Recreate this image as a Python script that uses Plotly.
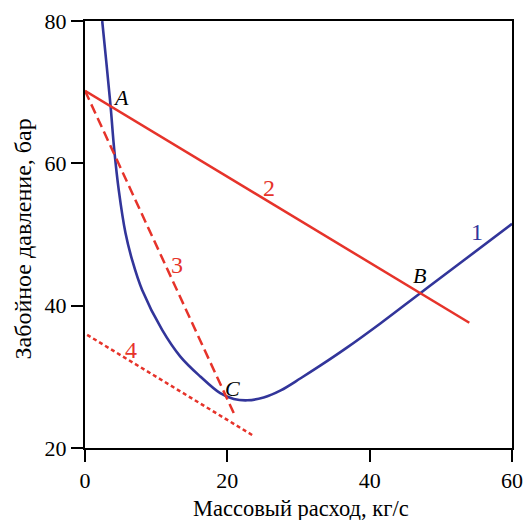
import plotly.graph_objects as go

# Curve 1 (blue): bottomhole pressure vs mass flow
curve1_x = [2.42, 3.0, 3.58, 4.1, 4.75, 5.69, 6.63, 8.03, 10.84, 13.4, 16.2, 19.0, 20.9, 22.8,
            25.1, 27.5, 30.3, 33.1, 36.8, 41.5, 47.1, 53.0, 60.0]
curve1_y = [80.0, 74.2, 68.2, 62.0, 56.2, 50.2, 46.4, 42.2, 36.6, 32.85, 30.05, 27.7, 26.9, 26.7,
            27.1, 28.1, 29.8, 31.6, 34.1, 37.5, 41.75, 46.2, 51.5]

# Line 2 (red solid)
line2_x = [0.0, 54.0]
line2_y = [70.2, 37.6]

# Line 3 (red dashed)
line3_x = [0.0, 20.9]
line3_y = [70.2, 24.9]

# Line 4 (red dotted)
line4_x = [0.3, 23.7]
line4_y = [35.9, 21.7]

# Point labels
point_labels = ["A", "B", "C"]
point_x = [5.0, 47.0, 20.7]
point_y = [69.3, 44.2, 28.4]

# Curve number labels
num_labels = ["1", "2", "3", "4"]
num_x = [55.1, 25.8, 12.95, 6.4]
num_y = [50.4, 56.5, 45.7, 33.8]

x_ticks = [0, 20, 40, 60]
y_ticks = [20, 40, 60, 80]

BLUE = "#32359a"
RED = "#e6332a"
FONT = "Liberation Serif"

fig = go.Figure()
fig.add_trace(go.Scatter(x=curve1_x, y=curve1_y, mode="lines",
                         line=dict(color=BLUE, width=2.6, shape="spline", smoothing=1.0)))
fig.add_trace(go.Scatter(x=line2_x, y=line2_y, mode="lines",
                         line=dict(color=RED, width=2.5)))
fig.add_trace(go.Scatter(x=line3_x, y=line3_y, mode="lines",
                         line=dict(color=RED, width=2.5, dash="10px,5px")))
fig.add_trace(go.Scatter(x=line4_x, y=line4_y, mode="lines",
                         line=dict(color=RED, width=2.5, dash="4px,3px")))

for t, x, y in zip(point_labels, point_x, point_y):
    fig.add_annotation(x=x, y=y, text="<i>" + t + "</i>", showarrow=False,
                       font=dict(family=FONT, size=22, color="black"),
                       xanchor="center", yanchor="middle")

num_colors = [BLUE, RED, RED, RED]
for t, x, y, c in zip(num_labels, num_x, num_y, num_colors):
    fig.add_annotation(x=x, y=y, text=t, showarrow=False,
                       font=dict(family=FONT, size=24, color=c),
                       xanchor="center", yanchor="middle")

fig.add_annotation(xref="paper", yref="paper", x=0.5, y=0, yshift=-60, xshift=2,
                   text="Массовый расход, кг/с", showarrow=False,
                   font=dict(family=FONT, size=22.5, color="black"),
                   xanchor="center", yanchor="middle")
fig.add_annotation(xref="paper", yref="paper", x=0, y=0.5, xshift=-63, yshift=-5,
                   text="Забойное давление, бар", showarrow=False, textangle=-90,
                   font=dict(family=FONT, size=24, color="black"),
                   xanchor="center", yanchor="middle")

axis_common = dict(showgrid=False, zeroline=False, showline=True, linecolor="black",
                   linewidth=2, mirror=True, ticks="outside", ticklen=12,
                   tickwidth=2, tickcolor="black", automargin=False,
                   tickfont=dict(family=FONT, size=22, color="black"))
fig.update_xaxes(range=[0, 60], tickvals=x_ticks, **axis_common)
fig.update_yaxes(range=[20, 80], tickvals=y_ticks, **axis_common)

fig.update_layout(width=524, height=520, showlegend=False,
                  plot_bgcolor="white", paper_bgcolor="white",
                  margin=dict(l=85, r=12, t=21, b=72, autoexpand=False))

fig.write_html("out.html", config={"displayModeBar": False},
               post_script="document.body.style.margin='0';document.body.style.overflow='hidden';")
